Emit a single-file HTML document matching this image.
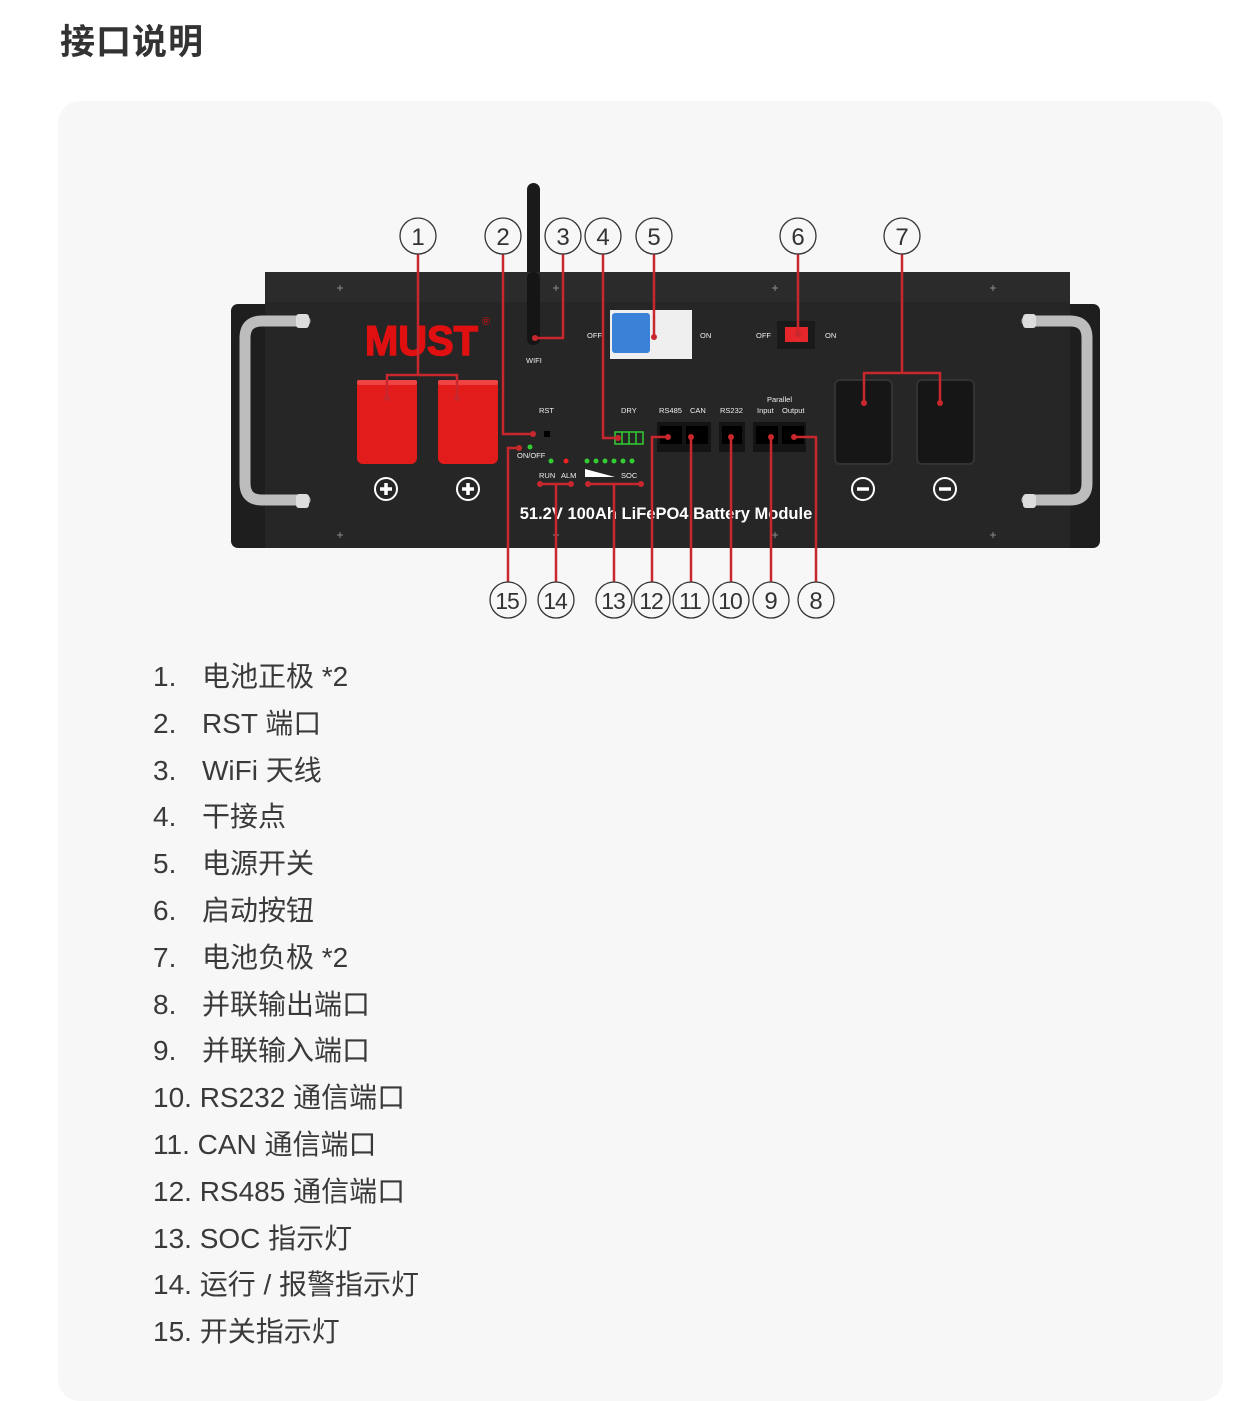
<!DOCTYPE html>
<html><head><meta charset="utf-8"><style>
body{margin:0;background:#fff;width:1252px;height:1375px;overflow:hidden;font-family:"Liberation Sans","Noto Sans CJK SC",sans-serif}
.t{position:absolute;left:60px;top:14px;font-size:35px;font-weight:bold;color:#333;letter-spacing:1px}
.card{position:absolute;left:58px;top:101px;width:1165px;height:1300px;background:#f7f7f7;border-radius:22px}
.li{position:absolute;left:153px;font-size:28px;color:#3a3a3a;line-height:34px;white-space:nowrap}
.li span{display:inline-block;width:49px}
</style></head><body>
<div class="t">接口说明</div>
<div class="card"></div>
<svg width="1252" height="1375" style="position:absolute;left:0;top:0" font-family="Liberation Sans, sans-serif">
<rect x="527" y="183" width="13" height="162" rx="6.5" fill="#1a1a1a"/>
<rect x="265" y="272" width="805" height="32" fill="#2b2b2b"/>
<rect x="231" y="304" width="869" height="244" rx="7" fill="#1e1e1e"/>
<rect x="265" y="302" width="805" height="246" fill="#262626"/>
<rect x="527" y="272" width="13" height="73" rx="6" fill="#151515"/>
<g stroke="#888" stroke-width="1"><path d="M337 288h6M340 285v6M553 288h6M556 285v6M772 288h6M775 285v6M990 288h6M993 285v6M337 535h6M340 532v6M553 535h6M556 532v6M772 535h6M775 532v6M990 535h6M993 532v6"/></g>
<g fill="none" stroke="#bdbdbd" stroke-width="11" stroke-linecap="round">
<path d="M305 321H262q-17 0-17 17V483q0 17 17 17H305"/>
<path d="M1027 321H1070q17 0 17 17V483q0 17-17 17H1027"/>
</g>
<g fill="#ddd"><rect x="296" y="314" width="13" height="14" rx="3"/><rect x="296" y="494" width="13" height="14" rx="3"/><rect x="1023" y="314" width="13" height="14" rx="3"/><rect x="1023" y="494" width="13" height="14" rx="3"/></g>
<text x="365" y="355" font-size="42" font-weight="bold" fill="#e01010" textLength="113" lengthAdjust="spacingAndGlyphs" stroke="#e01010" stroke-width="1.5">MUST</text>
<text x="482" y="325" font-size="11" fill="#e01010">®</text>
<rect x="357" y="380" width="60" height="84" rx="6" fill="#e21b1b"/>
<rect x="438" y="380" width="60" height="84" rx="6" fill="#e21b1b"/>
<rect x="357" y="380" width="60" height="5" rx="2" fill="#f04444"/>
<rect x="438" y="380" width="60" height="5" rx="2" fill="#f04444"/>
<rect x="835" y="380" width="57" height="84" rx="5" fill="#161616" stroke="#333" stroke-width="2"/>
<rect x="917" y="380" width="57" height="84" rx="5" fill="#161616" stroke="#333" stroke-width="2"/>
<g stroke="#fff" stroke-width="2" fill="none"><circle cx="386" cy="489" r="11"/><circle cx="468" cy="489" r="11"/><circle cx="863" cy="489" r="11"/><circle cx="945" cy="489" r="11"/></g>
<g stroke="#fff" stroke-width="3.5"><path d="M380 489h12M386 483v12M462 489h12M468 483v12M857 489h12M939 489h12"/></g>
<rect x="610" y="310" width="82" height="49" fill="#efefef"/>
<rect x="612" y="313" width="38" height="40" rx="3" fill="#3a82d8"/>
<rect x="777" y="321" width="38" height="28" fill="#1a1a1a"/>
<rect x="785" y="327" width="23" height="15" fill="#e5262a"/>
<g fill="#eee" font-size="7.5">
<text x="587" y="338">OFF</text><text x="700" y="338">ON</text>
<text x="756" y="338">OFF</text><text x="825" y="338">ON</text>
<text x="526" y="363">WIFI</text>
<text x="539" y="413">RST</text><text x="621" y="413">DRY</text>
<text x="659" y="413">RS485</text><text x="690" y="413">CAN</text><text x="720" y="413">RS232</text>
<text x="767" y="402">Parallel</text><text x="757" y="413">Input</text><text x="782" y="413">Output</text>
<text x="517" y="458">ON/OFF</text><text x="539" y="478">RUN</text><text x="561" y="478">ALM</text><text x="621" y="478">SOC</text>
</g>
<rect x="544" y="431" width="6" height="6" fill="#000"/>
<rect x="615" y="432" width="28" height="12" fill="none" stroke="#3c3" stroke-width="1.5"/>
<path d="M622 432v12M629 432v12M636 432v12" stroke="#3c3" stroke-width="1.5"/>
<g fill="#141414"><rect x="657" y="422" width="54" height="30"/><rect x="719" y="422" width="26" height="30"/><rect x="753" y="422" width="53" height="30"/></g>
<g fill="#000"><rect x="660" y="426" width="22" height="18"/><rect x="686" y="426" width="22" height="18"/><rect x="722" y="426" width="20" height="18"/><rect x="756" y="426" width="22" height="18"/><rect x="782" y="426" width="22" height="18"/></g>
<g fill="#3c3"><circle cx="530" cy="447" r="2.5"/><circle cx="551" cy="461" r="2.5"/><circle cx="587" cy="461" r="2.5"/><circle cx="596" cy="461" r="2.5"/><circle cx="605" cy="461" r="2.5"/><circle cx="614" cy="461" r="2.5"/><circle cx="623" cy="461" r="2.5"/><circle cx="632" cy="461" r="2.5"/></g>
<circle cx="566" cy="461" r="2.5" fill="#e22"/>
<path d="M585 469L615 477H585Z" fill="#fff"/>
<text x="666" y="519" font-size="16.5" font-weight="bold" fill="#fff" text-anchor="middle">51.2V 100Ah LiFePO4 Battery Module</text>
<g fill="none" stroke="#c8282d" stroke-width="2.5">
<path d="M418 254V375M387 398V375H457V398"/>
<path d="M503 254V434H533"/>
<path d="M563 254V338H535"/>
<path d="M603 254V438H618"/>
<path d="M654 254V337"/>
<path d="M798 254V334"/>
<path d="M902 254V373M864 403V373H940V403"/>
<path d="M508 582V448H519"/>
<path d="M556 582V484M540 484H571"/>
<path d="M614 582V484M588 484H641"/>
<path d="M652 582V437H668"/>
<path d="M691 582V437"/><path d="M731 582V437"/><path d="M771 582V437"/>
<path d="M816 582V437H794"/>
</g>
<g fill="#c8282d">
<circle cx="387" cy="398" r="3"/><circle cx="457" cy="398" r="3"/><circle cx="533" cy="434" r="3"/><circle cx="535" cy="338" r="3"/><circle cx="618" cy="438" r="3"/><circle cx="654" cy="337" r="3"/><circle cx="798" cy="334" r="3"/><circle cx="864" cy="403" r="3"/><circle cx="940" cy="403" r="3"/>
<circle cx="519" cy="448" r="3"/><circle cx="540" cy="484" r="3"/><circle cx="571" cy="484" r="3"/><circle cx="588" cy="484" r="3"/><circle cx="641" cy="484" r="3"/><circle cx="668" cy="437" r="3"/><circle cx="691" cy="437" r="3"/><circle cx="731" cy="437" r="3"/><circle cx="771" cy="437" r="3"/><circle cx="794" cy="437" r="3"/>
</g>
<g fill="none" stroke="#333" stroke-width="1.3">
<circle cx="418" cy="236" r="18"/><circle cx="503" cy="236" r="18"/><circle cx="563" cy="236" r="18"/><circle cx="603" cy="236" r="18"/><circle cx="654" cy="236" r="18"/><circle cx="798" cy="236" r="18"/><circle cx="902" cy="236" r="18"/>
<circle cx="508" cy="600" r="18"/><circle cx="556" cy="600" r="18"/><circle cx="614" cy="600" r="18"/><circle cx="652" cy="600" r="18"/><circle cx="691" cy="600" r="18"/><circle cx="731" cy="600" r="18"/><circle cx="771" cy="600" r="18"/><circle cx="816" cy="600" r="18"/>
</g>
<g fill="#333" font-size="24" text-anchor="middle">
<text x="418" y="245">1</text><text x="503" y="245">2</text><text x="563" y="245">3</text><text x="603" y="245">4</text><text x="654" y="245">5</text><text x="798" y="245">6</text><text x="902" y="245">7</text>
<text x="771" y="609">9</text><text x="816" y="609">8</text>
</g>
<g fill="#333" font-size="23" text-anchor="middle" letter-spacing="-1">
<text x="507" y="609">15</text><text x="555" y="609">14</text><text x="613" y="609">13</text><text x="651" y="609">12</text><text x="690" y="609">11</text><text x="730" y="609">10</text>
</g>
</svg>
<div class="li" style="top:660px"><span>1.</span>电池正极 *2</div>
<div class="li" style="top:707px"><span>2.</span>RST 端口</div>
<div class="li" style="top:754px"><span>3.</span>WiFi 天线</div>
<div class="li" style="top:800px"><span>4.</span>干接点</div>
<div class="li" style="top:847px"><span>5.</span>电源开关</div>
<div class="li" style="top:894px"><span>6.</span>启动按钮</div>
<div class="li" style="top:941px"><span>7.</span>电池负极 *2</div>
<div class="li" style="top:988px"><span>8.</span>并联输出端口</div>
<div class="li" style="top:1034px"><span>9.</span>并联输入端口</div>
<div class="li" style="top:1081px">10. RS232 通信端口</div>
<div class="li" style="top:1128px">11. CAN 通信端口</div>
<div class="li" style="top:1175px">12. RS485 通信端口</div>
<div class="li" style="top:1222px">13. SOC 指示灯</div>
<div class="li" style="top:1268px">14. 运行 / 报警指示灯</div>
<div class="li" style="top:1315px">15. 开关指示灯</div>
</body></html>
